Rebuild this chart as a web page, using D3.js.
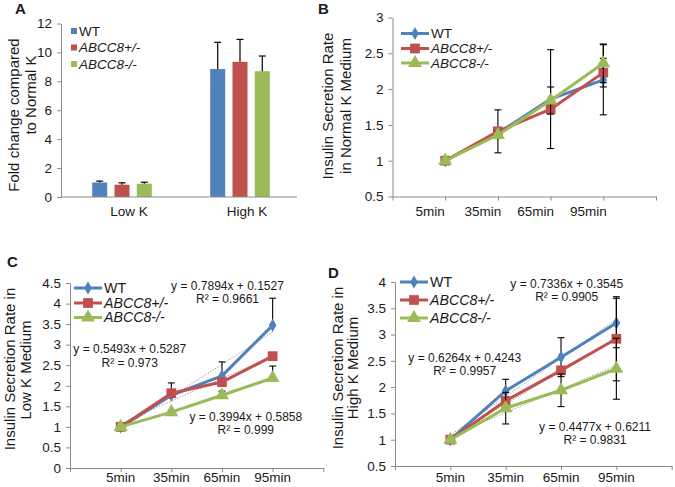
<!DOCTYPE html>
<html><head><meta charset="utf-8">
<script src="https://cdn.jsdelivr.net/npm/d3@7"></script>
<style>
body{margin:0;background:#fff}
text{font-family:"Liberation Sans",Arial,sans-serif;fill:#1a1a1a}
</style>
</head><body>
<svg id="c" width="675" height="487" viewBox="0 0 675 487"></svg>
<script>
// ---------- DATA ----------
const seriesNames = ["WT", "ABCC8+/-", "ABCC8-/-"];
const seriesColors = ["#4F81BD", "#C0504D", "#9BBB59"];

// Panel A (bars)
const barCategories = ["Low K", "High K"];
const barWT = [1.0, 8.85];
const barHet = [0.85, 9.35];
const barKO = [0.92, 8.7];
const barErrWT = [0.1, 1.85];
const barErrHet = [0.13, 1.55];
const barErrKO = [0.1, 1.05];
const aTicks = [0, 2, 4, 6, 8, 10, 12];

// Time points for line panels
const timePoints = ["5min", "35min", "65min", "95min"];

// Panel B (normal K)
const bWT = [1, 1.38, 1.86, 2.13];
const bHet = [1, 1.41, 1.72, 2.23];
const bKO = [1, 1.36, 1.84, 2.36];
const bErrWT = [0, 0.04, 0.69, 0.49];
const bErrHet = [0, 0.3, 0.06, 0.2];
const bErrKO = [0, 0.05, 0.19, 0.27];
const bTicks = [0.5, 1, 1.5, 2, 2.5, 3];

// Panel C (low K)
const cWT = [1, 1.77, 2.24, 3.47];
const cHet = [1, 1.82, 2.09, 2.72];
const cKO = [1, 1.36, 1.77, 2.19];
const cErrWT = [0, 0.05, 0.34, 0.66];
const cErrHet = [0, 0.25, 0.04, 0.05];
const cErrKO = [0, 0.03, 0.1, 0.29];
const cSlopes = [0.7894, 0.5493, 0.3994];
const cIntercepts = [0.1527, 0.5287, 0.5858];
const cR2 = ["0.9661", "0.973", "0.999"];
const cTicks = [0, 0.5, 1, 1.5, 2, 2.5, 3, 3.5, 4, 4.5];

// Panel D (high K)
const dWT = [1, 1.93, 2.57, 3.22];
const dHet = [1, 1.74, 2.32, 2.92];
const dKO = [1, 1.60, 1.94, 2.35];
const dErrWT = [0, 0.22, 0.37, 0.47];
const dErrHet = [0, 0.05, 0.05, 0.8];
const dErrKO = [0, 0.3, 0.31, 0.58];
const dSlopes = [0.7336, 0.6264, 0.4477];
const dIntercepts = [0.3545, 0.4243, 0.6211];
const dR2 = ["0.9905", "0.9957", "0.9831"];
const dTicks = [0.5, 1, 1.5, 2, 2.5, 3, 3.5, 4];

// ---------- DRAWING ----------
const svg = d3.select("#c");
svg.append("rect").attr("width", 675).attr("height", 487).attr("fill", "#fff");
const AXIS = "#8a8a8a";
const symbols = [d3.symbolDiamond, d3.symbolSquare, d3.symbolTriangle];
const symSizes = [50, 95, 85];
const fmt = d => String(d);

function panelLetter(t, x, y) {
  svg.append("text").attr("x", x).attr("y", y).attr("font-size", 15)
    .attr("font-weight", "bold").text(t);
}
function yTitle(lines, xs, cys) {
  lines.forEach((l, i) => {
    svg.append("text").attr("transform", `translate(${xs[i]},${cys[i]}) rotate(-90)`)
      .attr("text-anchor", "middle").attr("dy", "0.35em").attr("font-size", 15).text(l);
  });
}
function seriesText(sel, name) {
  sel.text(name).attr("font-style", name.startsWith("ABCC8") ? "italic" : "normal");
}
function styleAxis(g) {
  g.select(".domain").attr("stroke", AXIS).attr("stroke-width", 1);
  g.selectAll(".tick line").attr("stroke", AXIS);
  g.selectAll(".tick text").attr("font-size", 13.5).attr("fill", "#1a1a1a")
    .attr("font-family", "'Liberation Sans',Arial,sans-serif");
}

// ----- Panel A -----
(function () {
  const left = 61, right = 297, top = 23.5, bottom = 197;
  const y = d3.scaleLinear().domain([0, 12]).range([bottom, top]);
  const x0 = d3.scaleBand().domain(barCategories).range([left, right]);
  const x1 = d3.scaleBand().domain(seriesNames).range([0, 59.6]).paddingInner(0.327);
  const vals = [barWT, barHet, barKO];
  const errs = [barErrWT, barErrHet, barErrKO];
  const g = svg.append("g");
  barCategories.forEach((c, ci) => {
    const gx = x0(c) + x0.bandwidth() / 2 - 29.8 + 2;
    seriesNames.forEach((s, si) => {
      const bx = gx + x1(s), bw = x1.bandwidth();
      const v = vals[si][ci], e = errs[si][ci];
      g.append("rect").attr("x", bx).attr("y", y(v)).attr("width", bw)
        .attr("height", y(0) - y(v)).attr("fill", seriesColors[si]);
      const cx = bx + bw / 2;
      g.append("line").attr("x1", cx).attr("x2", cx).attr("y1", y(v)).attr("y2", y(v + e))
        .attr("stroke", "#000").attr("stroke-width", 1.2);
      g.append("line").attr("x1", cx - 3.5).attr("x2", cx + 3.5).attr("y1", y(v + e)).attr("y2", y(v + e))
        .attr("stroke", "#000").attr("stroke-width", 1.2);
    });
    g.append("text").attr("x", x0(c) + x0.bandwidth() / 2 + 9).attr("y", 216)
      .attr("text-anchor", "middle").attr("font-size", 13.5).text(c);
  });
  const ya = svg.append("g").attr("transform", `translate(${left},0)`)
    .call(d3.axisLeft(y).tickValues(aTicks).tickFormat(fmt).tickSize(4).tickSizeOuter(0).tickPadding(5));
  styleAxis(ya);
  svg.append("line").attr("x1", left).attr("x2", right).attr("y1", bottom).attr("y2", bottom)
    .attr("stroke", AXIS);
  seriesNames.forEach((s, i) => {
    const ly = 31 + i * 16.5;
    svg.append("rect").attr("x", 71).attr("y", ly - 3).attr("width", 6).attr("height", 6)
      .attr("fill", seriesColors[i]);
    seriesText(svg.append("text").attr("x", 79).attr("y", ly).attr("dy", "0.35em")
      .attr("font-size", 13.5), s);
  });
  yTitle(["Fold change compared", "to Normal K"], [14, 31], [115, 95]);
  panelLetter("A", 15, 14);
})();

// ----- generic line panel -----
function linePanel(cfg) {
  const x = d3.scaleLinear().domain([0, 5]).range([cfg.left, cfg.right]);
  const y = d3.scaleLinear().domain(cfg.yDomain).range([cfg.bottom, cfg.top]);
  const ya = svg.append("g").attr("transform", `translate(${cfg.left},0)`)
    .call(d3.axisLeft(y).tickValues(cfg.ticks).tickFormat(fmt).tickSize(4).tickSizeOuter(0).tickPadding(5));
  styleAxis(ya);
  const xa = svg.append("g").attr("transform", `translate(0,${cfg.bottom})`)
    .call(d3.axisBottom(x).tickValues([0, 1, 2, 3, 4, 5]).tickFormat("").tickSize(4).tickSizeOuter(0));
  styleAxis(xa);
  timePoints.forEach((t, i) => {
    svg.append("text").attr("x", x(i + 1) + cfg.labelOffset).attr("y", cfg.labelY)
      .attr("text-anchor", "middle").attr("font-size", 13.5).text(t);
  });
  const line = d3.line().x((d, i) => x(i + 1)).y(d => y(d));
  const g = svg.append("g");
  cfg.series.forEach((vals, si) => {
    const col = seriesColors[si];
    if (cfg.slopes) {
      const m = cfg.slopes[si], b = cfg.intercepts[si];
      g.append("line").attr("x1", x(1)).attr("y1", y(m * 1 + b)).attr("x2", x(4)).attr("y2", y(m * 4 + b))
        .attr("stroke", "#777").attr("stroke-width", 0.8).attr("stroke-dasharray", "1.2,1.6");
    }
    vals.forEach((v, i) => {
      const e = cfg.errs[si][i];
      if (!e) return;
      const cx = x(i + 1);
      const lo = cfg.plusOnly ? v : v - e, hi = v + e;
      g.append("line").attr("x1", cx).attr("x2", cx).attr("y1", y(lo)).attr("y2", y(hi))
        .attr("stroke", "#000").attr("stroke-width", 1.1);
      g.append("line").attr("x1", cx - 3.5).attr("x2", cx + 3.5).attr("y1", y(hi)).attr("y2", y(hi))
        .attr("stroke", "#000").attr("stroke-width", 1.1);
      if (!cfg.plusOnly)
        g.append("line").attr("x1", cx - 3.5).attr("x2", cx + 3.5).attr("y1", y(lo)).attr("y2", y(lo))
          .attr("stroke", "#000").attr("stroke-width", 1.1);
    });
    g.append("path").attr("d", line(vals)).attr("fill", "none").attr("stroke", col)
      .attr("stroke-width", 3).attr("stroke-linejoin", "round");
    vals.forEach((v, i) => {
      g.append("path").attr("d", d3.symbol(symbols[si], symSizes[si])())
        .attr("transform", `translate(${x(i + 1)},${y(v)})`).attr("fill", col);
    });
  });
  seriesNames.forEach((s, i) => {
    const ly = cfg.legY[i];
    svg.append("line").attr("x1", cfg.legX).attr("x2", cfg.legX + 28).attr("y1", ly).attr("y2", ly)
      .attr("stroke", seriesColors[i]).attr("stroke-width", 3);
    svg.append("path").attr("d", d3.symbol(symbols[i], symSizes[i])())
      .attr("transform", `translate(${cfg.legX + 14},${ly})`).attr("fill", seriesColors[i]);
    seriesText(svg.append("text").attr("x", cfg.legX + 30).attr("y", ly).attr("dy", "0.35em")
      .attr("font-size", cfg.legFont), s);
  });
  if (cfg.slopes) {
    cfg.eqPos.forEach((p, si) => {
      svg.append("text").attr("x", p[0]).attr("y", p[1]).attr("dy", "0.35em").attr("text-anchor", "middle")
        .attr("font-size", 12).text(`y = ${cfg.slopes[si]}x + ${cfg.intercepts[si]}`);
      svg.append("text").attr("x", p[0]).attr("y", p[1] + 13.3).attr("dy", "0.35em").attr("text-anchor", "middle")
        .attr("font-size", 12).text(`R² = ${cfg.r2[si]}`);
    });
  }
  yTitle(cfg.title, cfg.titleX, cfg.titleY);
  panelLetter(cfg.letter, cfg.letterPos[0], cfg.letterPos[1]);
}

linePanel({
  left: 392.5, right: 656, top: 17.5, bottom: 196.5, yDomain: [0.5, 3], ticks: bTicks,
  labelOffset: -15, labelY: 216,
  series: [bWT, bHet, bKO], errs: [bErrWT, bErrHet, bErrKO], plusOnly: false,
  legX: 401, legY: [33.5, 48.5, 63], legFont: 13.5,
  title: ["Insulin Secretion Rate", "in Normal K Medium"], titleX: [328, 346], titleY: [106, 106],
  letter: "B", letterPos: [318, 14]
});

linePanel({
  left: 70, right: 323.3, top: 283, bottom: 468, yDomain: [0, 4.5], ticks: cTicks,
  labelOffset: 0, labelY: 482,
  series: [cWT, cHet, cKO], errs: [cErrWT, cErrHet, cErrKO], plusOnly: true,
  slopes: cSlopes, intercepts: cIntercepts, r2: cR2,
  eqPos: [[227.5, 285.7], [129.7, 349], [245.8, 416.7]],
  legX: 74, legY: [288, 303, 317.5], legFont: 14.2,
  title: ["Insulin Secretion Rate in", "Low K  Medium"], titleX: [10, 26], titleY: [369, 370],
  letter: "C", letterPos: [7, 267]
});

linePanel({
  left: 395, right: 671.7, top: 282, bottom: 466, yDomain: [0.5, 4], ticks: dTicks,
  labelOffset: 0, labelY: 482,
  series: [dWT, dHet, dKO], errs: [dErrWT, dErrHet, dErrKO], plusOnly: false,
  slopes: dSlopes, intercepts: dIntercepts, r2: dR2,
  eqPos: [[566.7, 283.3], [464.7, 357.7], [595, 426.7]],
  legX: 400, legY: [282, 300, 318], legFont: 14.2,
  title: ["Insulin Secretion Rate in", "High K Medium"], titleX: [338, 353], titleY: [368, 368],
  letter: "D", letterPos: [328, 278]
});
</script>
</body></html>
